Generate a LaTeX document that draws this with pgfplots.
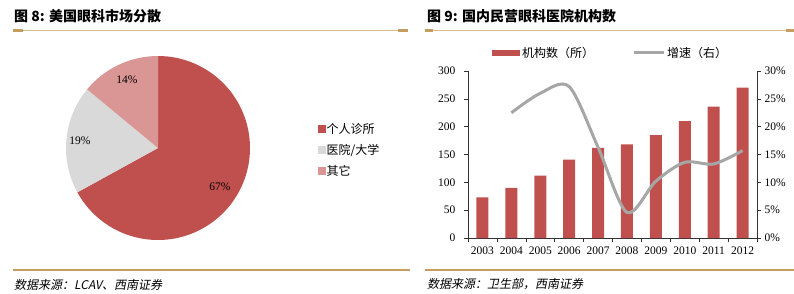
\documentclass[border=0pt]{standalone}
\usepackage{fontspec}
\usepackage{pgfplots}
\pgfplotsset{compat=1.18}
\setmainfont{Liberation Serif}
\newfontfamily\cjk{Noto Sans CJK SC}
\newfontfamily\cjki{Noto Sans CJK SC}[FakeSlant=0.2]
\definecolor{barred}{RGB}{192,80,77}
\definecolor{piegray}{RGB}{217,217,217}
\definecolor{piepink}{RGB}{218,150,148}
\definecolor{linegray}{RGB}{166,166,166}
\definecolor{gold}{RGB}{196,158,96}
\definecolor{goldlight}{RGB}{214,188,136}
\pgfplotsset{
  barlegend/.style={legend image code/.code={\fill[barred] (0pt,-3pt) rectangle (28pt,3pt);}},
  linelegend/.style={legend image code/.code={\draw[linegray, line width=3pt] (0pt,0pt) -- (30pt,0pt);}},
  pielegendA/.style={legend image code/.code={\fill[barred] (0pt,-3.5pt) rectangle (7pt,3.5pt);}},
  pielegendB/.style={legend image code/.code={\fill[piegray] (0pt,-3.5pt) rectangle (7pt,3.5pt);}},
  pielegendC/.style={legend image code/.code={\fill[piepink] (0pt,-3.5pt) rectangle (7pt,3.5pt);}},
}
\begin{document}
\begin{tikzpicture}
\path[use as bounding box] (0,0) rectangle (794pt,293pt);
% titles
\node[anchor=west, inner sep=0pt] at (14pt,277pt) {\fontsize{14}{15}\selectfont\cjk\bfseries 图 8: 美国眼科市场分散};
\node[anchor=west, inner sep=0pt] at (427pt,277pt) {\fontsize{14}{15}\selectfont\cjk\bfseries 图 9: 国内民营眼科医院机构数};
% top rules
\draw[goldlight, line width=1pt] (13pt,262.5pt) -- (408pt,262.5pt);
\fill[gold] (13pt,261.3pt) rectangle (23pt,263.7pt);
\fill[gold] (398pt,261.3pt) rectangle (408pt,263.7pt);
\draw[goldlight, line width=1pt] (425pt,262.5pt) -- (794pt,262.5pt);
\fill[gold] (425pt,261.3pt) rectangle (433pt,263.7pt);
\fill[gold] (786pt,261.3pt) rectangle (794pt,263.7pt);
% bottom rules
\draw[gold, line width=2pt] (13pt,23pt) -- (410pt,23pt);
\draw[gold, line width=2pt] (425pt,23pt) -- (794pt,23pt);
% footers
\node[anchor=west, inner sep=0pt] at (14pt,8.5pt) {\fontsize{12}{13}\selectfont\cjki 数据来源：LCAV、西南证券};
\node[anchor=west, inner sep=0pt] at (427pt,8.5pt) {\fontsize{12}{13}\selectfont\cjki 数据来源：卫生部，西南证券};

% pie angles from the shares 67, 19, 14
\pgfmathsetmacro{\aA}{90}
\pgfmathsetmacro{\aB}{90-67*3.6}
\pgfmathsetmacro{\aC}{\aB-19*3.6}
\pgfmathsetmacro{\aD}{\aC-14*3.6}
\begin{axis}[at={(158pt,145pt)}, anchor=center, scale only axis,
  width=200pt, height=200pt, xmin=-100, xmax=100, ymin=-100, ymax=100,
  hide axis, clip=false,
  legend style={at={(1.3,0.49)}, anchor=west, draw=none, fill=none,
    inner sep=0pt, row sep=7.5pt, font=\fontsize{12}{13}\selectfont\cjk,
    cells={anchor=west}, nodes={inner sep=1pt}}]
\addlegendimage{pielegendA}
\addlegendentry{个人诊所}
\addlegendimage{pielegendB}
\addlegendentry{医院/大学}
\addlegendimage{pielegendC}
\addlegendentry{其它}
\fill[barred] (axis cs:0,0) -- (axis cs:{92*cos(\aA)},{92*sin(\aA)}) arc[start angle=\aA, end angle=\aB, radius=92pt] -- cycle;
\fill[piegray] (axis cs:0,0) -- (axis cs:{92*cos(\aB)},{92*sin(\aB)}) arc[start angle=\aB, end angle=\aC, radius=92pt] -- cycle;
\fill[piepink] (axis cs:0,0) -- (axis cs:{92*cos(\aC)},{92*sin(\aC)}) arc[start angle=\aC, end angle=\aD, radius=92pt] -- cycle;
\node[font=\fontsize{11.5}{12}\selectfont] at (axis cs:62,-39) {67\%};
\node[font=\fontsize{11.5}{12}\selectfont] at (axis cs:-78,7) {19\%};
\node[font=\fontsize{11.5}{12}\selectfont] at (axis cs:-31,68) {14\%};
\end{axis}

% bar chart
\begin{axis}[at={(468pt,55pt)}, anchor=south west, scale only axis,
  width=289pt, height=167pt, xmin=-0.5, xmax=9.5, ymin=0, ymax=300,
  ytick={0,50,...,300},
  xtick={0,...,9}, xticklabels={2003,2004,2005,2006,2007,2008,2009,2010,2011,2012},
  minor xtick={-0.5,0.5,...,9.5},
  major x tick style={draw=none},
  axis x line*=bottom, axis y line*=left,
  axis line style={black!80, line width=0.6pt, -},
  tick style={black!80, line width=0.6pt},
  tick align=outside, major tick length=4pt, minor tick length=4pt,
  /pgf/number format/assume math mode=true,
  ticklabel style={font=\fontsize{11.5}{12}\selectfont},
  yticklabel style={xshift=-5pt},
  xticklabel style={yshift=-1pt},
  legend columns=2,
  legend style={at={(0.083,1.108)}, anchor=west, draw=none, fill=none,
    inner sep=0pt, font=\fontsize{12}{13}\selectfont\cjk,
    /tikz/every even column/.append style={column sep=36pt}}]
\addplot[ybar, bar width=12pt, fill=barred, draw=none, barlegend]
  coordinates {(0,73) (1,90) (2,112) (3,141) (4,162) (5,168) (6,185) (7,210) (8,236) (9,270)};
\addlegendentry{机构数（所）}
\addlegendimage{linelegend}
\addlegendentry{增速（右）}
\end{axis}
\begin{axis}[at={(468pt,55pt)}, anchor=south west, scale only axis,
  width=289pt, height=167pt, xmin=-0.5, xmax=9.5, ymin=0, ymax=30,
  ytick={0,5,...,30}, yticklabel={\pgfmathprintnumber{\tick}\%},
  axis y line*=right, hide x axis,
  axis line style={black!80, line width=0.6pt, -},
  tick style={black!80, line width=0.6pt},
  tick align=outside, major tick length=4pt,
  /pgf/number format/assume math mode=true,
  ticklabel style={font=\fontsize{11.5}{12}\selectfont}]
\addplot[linegray, line width=3pt, smooth, no marks]
  coordinates {(1,22.5) (2,26) (3,27.2) (4,16.3) (5,4.6) (6,10.2) (7,13.6) (8,13.3) (9,15.7)};
\end{axis}
\end{tikzpicture}
\end{document}
